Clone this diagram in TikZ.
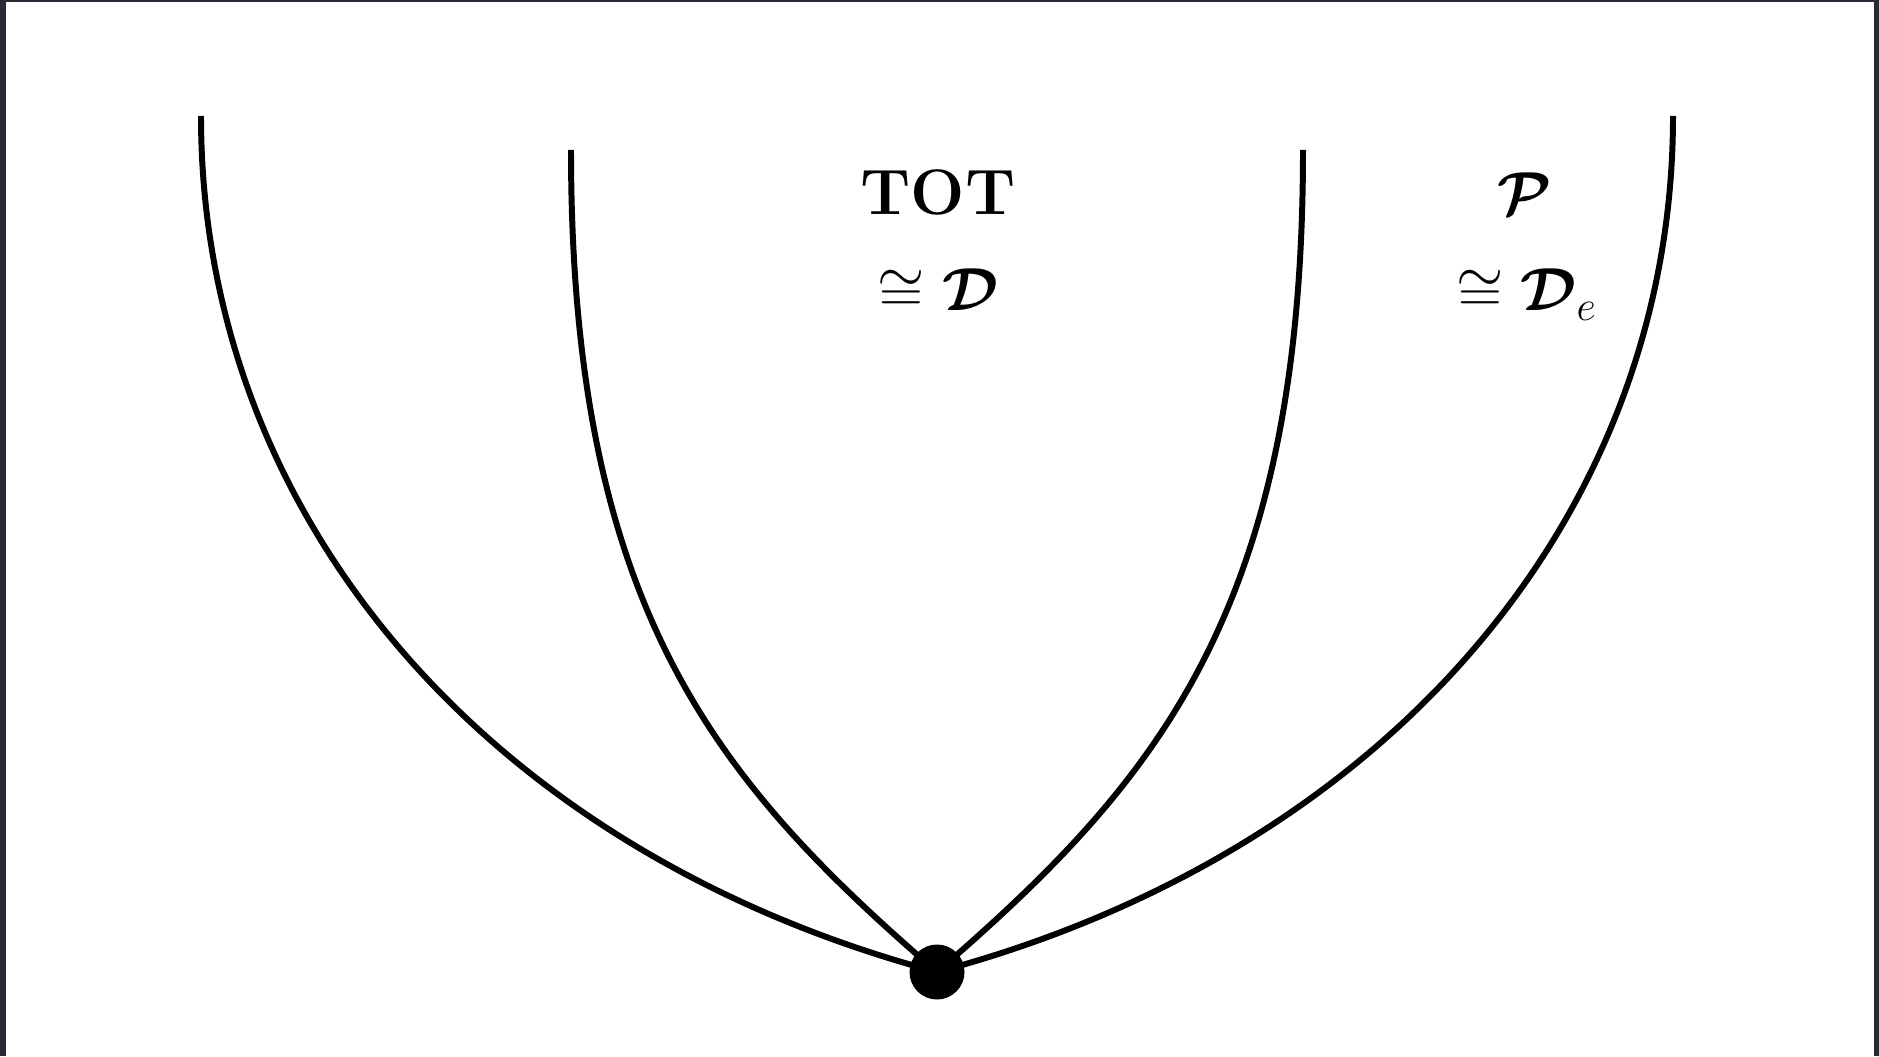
\documentclass[tikz,border=0pt]{standalone}
\usepackage{amsmath}
\usepackage{bm}
\definecolor{edgegray}{RGB}{42,42,52}
\tikzset{
  curve/.style={line width=1.7pt},
  apexdot/.style={circle,fill=black,inner sep=0pt,minimum size=0.55cm},
  lbl/.style={anchor=base,inner sep=0pt,font=\fontsize{17.5}{21}\selectfont}
}
\begin{document}
\begin{tikzpicture}[scale=1.0]
\useasboundingbox (0,0) rectangle (18.79,10.56);
\fill[edgegray] (0,0) rectangle (0.06,10.56);
\fill[edgegray] (0,10.54) rectangle (18.79,10.56);
\fill[edgegray] (18.74,0) rectangle (18.79,10.56);
\coordinate (apex) at (9.37,0.84);
\coordinate (outl) at (2.01,9.40);
\coordinate (innl) at (5.71,9.06);
\coordinate (innr) at (13.03,9.06);
\coordinate (outr) at (16.73,9.40);
\draw[curve] (outl) .. controls +(0,-4.0) and +(-4.5,1.2) .. (apex);
\draw[curve] (innl) .. controls +(0,-4.6) and +(-2.2,1.9) .. (apex);
\draw[curve] (innr) .. controls +(0,-4.6) and +(2.2,1.9) .. (apex);
\draw[curve] (outr) .. controls +(0,-4.0) and +(4.5,1.2) .. (apex);
\node[apexdot] (dot) at (apex) {};
\node[lbl,font=\fontsize{18.3}{22}\selectfont] (tot) at (9.38,8.41) {\textbf{TOT}};
\node[lbl] (totiso) at (9.38,7.45) {$\cong\bm{\mathcal{D}}$};
\node[lbl] (pcal) at (15.25,8.41) {$\bm{\mathcal{P}}$};
\node[lbl] (piso) at (15.27,7.45) {$\cong\bm{\mathcal{D}}_e$};
\end{tikzpicture}
\end{document}
